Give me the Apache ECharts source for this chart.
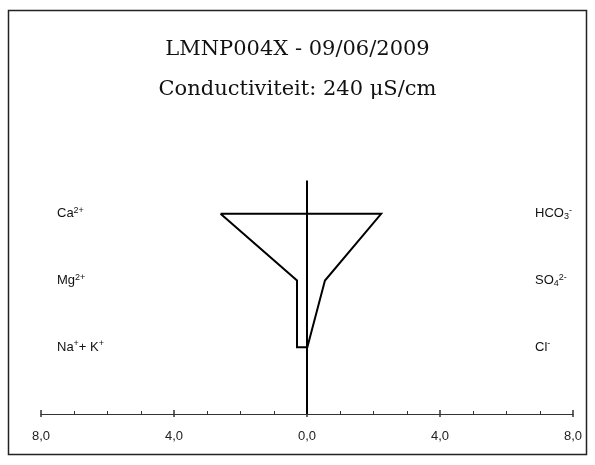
<!DOCTYPE html>
<html>
<head>
<meta charset="utf-8">
<script src="https://cdn.jsdelivr.net/npm/echarts@6/dist/echarts.min.js"></script>
<style>
  html, body { margin: 0; padding: 0; background: #fff; }
  #chart { width: 595px; height: 465px; }
</style>
</head>
<body>
<div id="chart"></div>
<script>
// Stiff diagram: cations to the left, anions to the right (meq/l)
const titleMain = 'LMNP004X - 09/06/2009';
const titleSub = 'Conductiviteit: 240 \u03BCS/cm';

const cationNames = ['Ca{sup|2+}', 'Mg{sup|2+}', 'Na{sup|+}+ K{sup|+}'];
const anionNames = ['HCO{sub|3}{sup|-}', 'SO{sub|4}{sup|2-}', 'Cl{sup|-}'];
const cationValues = [2.60, 0.30, 0.30];   // Ca, Mg, Na+K
const anionValues = [2.23, 0.54, 0.01];    // HCO3, SO4, Cl
const rowLevels = [3, 2, 1];               // vertical position of each ion row

const xTicks = [-8, -4, 0, 4, 8];

// polygon: down the cation side, back up the anion side, closed at the top
const polygon = [];
for (let i = 0; i < rowLevels.length; i++) polygon.push([-cationValues[i], rowLevels[i]]);
for (let i = rowLevels.length - 1; i >= 0; i--) polygon.push([anionValues[i], rowLevels[i]]);
polygon.push([-cationValues[0], rowLevels[0]]);

const yMax = 3.5;
const centerLine = [[0, 0], [0, yMax]];

function rowLabel(names) {
  return function (v) {
    const idx = rowLevels.indexOf(v);
    return idx >= 0 ? names[idx] : '';
  };
}

const labelRich = {
  sup: { fontSize: 9, fontFamily: 'Liberation Sans', color: '#111', padding: [0, 0, 7, 0] },
  sub: { fontSize: 9, fontFamily: 'Liberation Sans', color: '#111', padding: [6, 0, 0, 0] }
};

const titleStyle = { fontFamily: 'DejaVu Serif', fontSize: 21, fontWeight: 'normal', color: '#111' };

const chart = echarts.init(document.getElementById('chart'), null, { renderer: 'canvas' });
chart.setOption({
  backgroundColor: '#fff',
  animation: false,
  title: [
    { text: titleMain, left: 'center', top: 34, textStyle: titleStyle },
    { text: titleSub, left: 'center', top: 74, textStyle: titleStyle }
  ],
  graphic: [{
    type: 'rect', shape: { x: 8.5, y: 10.5, width: 578, height: 444 },
    style: { fill: 'none', stroke: '#222', lineWidth: 1.5 }, silent: true
  }],
  grid: { left: 41, right: 22, top: 180.5, bottom: 51 },
  xAxis: [
    {
      type: 'value', min: xTicks[0], max: xTicks[xTicks.length - 1], interval: 4,
      position: 'bottom',
      axisLine: { show: true, onZero: false, lineStyle: { color: '#333', width: 1 } },
      axisTick: { show: true, inside: true, length: 4, lineStyle: { color: '#333', width: 1.5 } },
      minorTick: { show: true, splitNumber: 4, length: 3, lineStyle: { color: '#333', width: 1 } },
      splitLine: { show: false },
      axisLabel: {
        margin: 16, fontFamily: 'Liberation Sans', fontSize: 13, color: '#222',
        formatter: v => Math.abs(v).toFixed(1).replace('.', ',')
      }
    },
    {
      type: 'value', min: xTicks[0], max: xTicks[xTicks.length - 1], interval: 4,
      position: 'bottom', offset: 0,
      axisLine: { show: false, onZero: false },
      axisTick: { show: true, inside: false, length: 3, lineStyle: { color: '#333', width: 1.5 } },
      splitLine: { show: false },
      axisLabel: { show: false }
    }
  ],
  yAxis: [
    {
      type: 'value', min: 0, max: yMax, interval: 1, position: 'left',
      axisLine: { show: false }, axisTick: { show: false }, splitLine: { show: false },
      axisLabel: {
        align: 'left', margin: -16, fontFamily: 'Liberation Sans', fontSize: 13, color: '#111',
        formatter: rowLabel(cationNames), rich: labelRich
      }
    },
    {
      type: 'value', min: 0, max: yMax, interval: 1, position: 'right',
      axisLine: { show: false }, axisTick: { show: false }, splitLine: { show: false },
      axisLabel: {
        align: 'left', margin: -38, fontFamily: 'Liberation Sans', fontSize: 13, color: '#111',
        formatter: rowLabel(anionNames), rich: labelRich
      }
    }
  ],
  series: [
    {
      type: 'line', data: centerLine, symbol: 'none', silent: true,
      lineStyle: { color: '#000', width: 2 }
    },
    {
      type: 'line', data: polygon, symbol: 'none', silent: true,
      lineStyle: { color: '#000', width: 2, join: 'miter' }
    }
  ]
});
</script>
</body>
</html>
